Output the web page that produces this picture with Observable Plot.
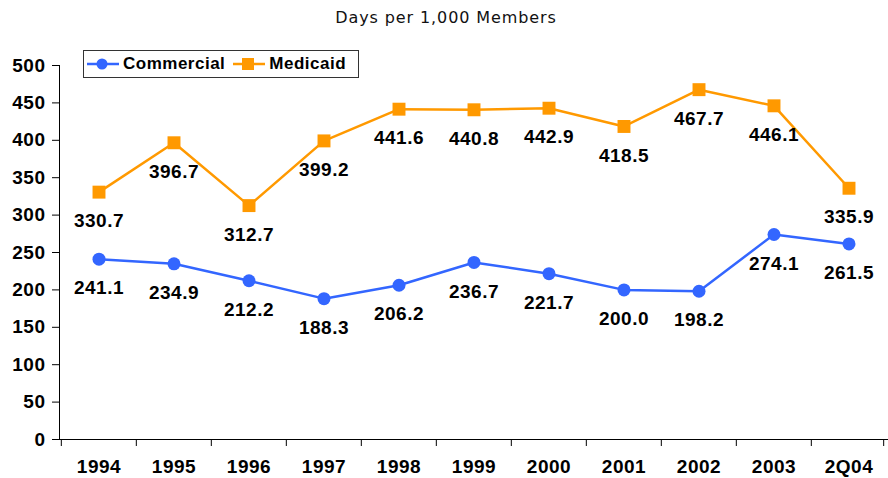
<!DOCTYPE html>
<html>
<head>
<meta charset="utf-8">
<script src="https://cdn.jsdelivr.net/npm/d3@7"></script>
<script src="https://cdn.jsdelivr.net/npm/@observablehq/plot@0.6"></script>
<style>
  html, body { margin: 0; padding: 0; background: #fff; }
  #wrap { position: relative; width: 888px; height: 478px; }
  #title { height: 36px; line-height: 36px; text-align: center; font-family: "DejaVu Sans", Verdana, sans-serif; font-size: 16px; letter-spacing: 0.9px; color: #111; padding-left: 4px; }
  #legend { position: absolute; left: 83px; top: 50px; width: 274px; height: 26px; border: 1px solid #333; background: #fff; display: flex; align-items: center; font-family: "Liberation Sans", Arial, sans-serif; font-weight: bold; font-size: 17px; letter-spacing: 0.5px; color: #000; }
  #legend .item { display: flex; align-items: center; }
  #legend svg { display: block; }
</style>
</head>
<body>
<div id="wrap">
  <div id="title">Days per 1,000 Members</div>
  <div id="chart"></div>
  <div id="legend"></div>
</div>
<script>
const years = ["1994", "1995", "1996", "1997", "1998", "1999", "2000", "2001", "2002", "2003", "2Q04"];
const commercial = [241.1, 234.9, 212.2, 188.3, 206.2, 236.7, 221.7, 200.0, 198.2, 274.1, 261.5];
const medicaid = [330.7, 396.7, 312.7, 399.2, 441.6, 440.8, 442.9, 418.5, 467.7, 446.1, 335.9];
const yTicks = [0, 50, 100, 150, 200, 250, 300, 350, 400, 450, 500];
const seriesNames = ["Commercial", "Medicaid"];
const colors = ["#3366FF", "#FF9900"];

const rows = [];
years.forEach((y, i) => {
  rows.push({year: y, value: commercial[i], series: seriesNames[0]});
  rows.push({year: y, value: medicaid[i], series: seriesNames[1]});
});
const com = rows.filter(d => d.series === "Commercial");
const med = rows.filter(d => d.series === "Medicaid");

const W = 888, H = 442, mL = 59, mR = 0, mT = 29, mB = 39;
const step = (W - mL - mR) / years.length;
const FS = 19;

const chart = Plot.plot({
  width: W,
  height: H,
  marginLeft: mL,
  marginRight: mR,
  marginTop: mT,
  marginBottom: mB,
  style: {fontFamily: "'Liberation Sans', Arial, sans-serif", fontSize: FS + "px", fontWeight: "bold", color: "#000", background: "#fff", letterSpacing: "0.5px"},
  x: {type: "band", domain: years, padding: 0, label: null},
  y: {domain: [0, 500], label: null},
  marks: [
    Plot.frame({anchor: "left", stroke: "#000"}),
    Plot.ruleY([0], {stroke: "#000"}),
    Plot.ruleX(years, {x: d => d, y1: 0, y2: 0, dx: -step / 2, insetBottom: -7, stroke: "#000"}),
    Plot.ruleX(years.slice(-1), {x: d => d, y1: 0, y2: 0, dx: step / 2 - 3, insetBottom: -7, stroke: "#000"}),
    Plot.axisY(yTicks, {tickSize: 7, tickPadding: 7, fontSize: FS, fontWeight: "bold", label: null}),
    Plot.axisX({tickSize: 0, tickPadding: 20, fontSize: FS, fontWeight: "bold", label: null}),
    Plot.line(med, {x: "year", y: "value", stroke: colors[1], strokeWidth: 2.5}),
    Plot.line(com, {x: "year", y: "value", stroke: colors[0], strokeWidth: 2.5}),
    Plot.dot(med, {x: "year", y: "value", symbol: "square", r: 7.3, fill: colors[1], stroke: "none"}),
    Plot.dot(com, {x: "year", y: "value", symbol: "circle", r: 6.5, fill: colors[0], stroke: "none"}),
    Plot.text(med, {x: "year", y: "value", text: d => d.value.toFixed(1), dy: 29, fontSize: FS, fontWeight: "bold", fill: "#000"}),
    Plot.text(com, {x: "year", y: "value", text: d => d.value.toFixed(1), dy: 29, fontSize: FS, fontWeight: "bold", fill: "#000"})
  ]
});
document.getElementById("chart").appendChild(chart);

// legend
const legend = document.getElementById("legend");
const swatch = (color, shape) => {
  const s = shape === "circle"
    ? `<circle cx="15" cy="8" r="5.5" fill="${color}"/>`
    : `<rect x="9" y="2" width="12" height="12" fill="${color}"/>`;
  return `<svg width="32" height="16"><line x1="0" x2="32" y1="8" y2="8" stroke="${color}" stroke-width="2.5"/>${s}</svg>`;
};
legend.innerHTML =
  `<div class="item" style="margin-left:3px">${swatch(colors[0], "circle")}<span style="margin-left:4px">${seriesNames[0]}</span></div>` +
  `<div class="item" style="margin-left:8px">${swatch(colors[1], "square")}<span style="margin-left:4px">${seriesNames[1]}</span></div>`;
</script>
</body>
</html>
